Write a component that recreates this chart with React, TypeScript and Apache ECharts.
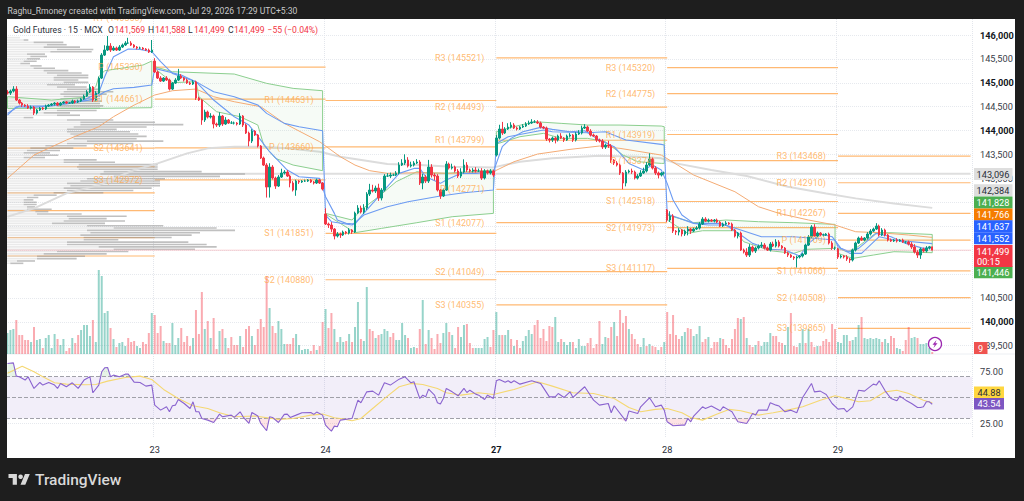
import React, { useEffect, useRef } from "react";
import * as echarts from "echarts";

const FONT = 'Roboto, sans-serif';
const BAR_SLOTS = 328;
const dayTicks: Record<number, string> = { 50: "23", 108: "24", 166: "27", 224: "28", 282: "29" };
const priceTicks = [139500, 140000, 140500, 141000, 141500, 142000, 142500, 143000, 143500, 144000, 144500, 145000, 145500, 146000];
const priceLabels = [139500, 140000, 140500, 143000, 143500, 144000, 144500, 145000, 145500, 146000];
const boldPrices = [140000, 144000, 145000, 146000];
const rsiTicks = [25, 75];

const closesDay22 = [144786,144828,144870,144640,144577,144535,144514,144473,144494,144368,144431,144473,144452,144514,144535,144556,144577,144535,144577,144598,144577,144577,144619,144598,144619,144661,144724,144807,144912,144640,144786,145100,145581,145686,145770,145686,145728,145686,145749,145791,145832,145832,145791,145749,145728,145728,145707,145686,145644,145686];
const closesDay23 = [145226,145100,145037,145100,145058,144870,144996,145058,145142,145100,145058,144996,144975,145017,144682,144640,144222,144389,144284,144305,144138,144117,144305,144138,144222,144159,144159,144159,144138,144305,144117,143950,143782,143991,143908,143678,143427,143280,142820,143238,143008,142841,143029,143113,143134,143050,142904,142757,142945,142925,142945,142945,142966,142925,142904,142966,142904,142778];
const closesDay24 = [142046,142025,141941,141795,141837,141816,141879,141858,141920,141879,142276,142381,142297,142381,142673,142757,142736,142799,142590,142757,143050,143050,143071,143071,143113,143280,143322,143385,143259,143280,143322,143343,142904,143029,142945,143238,143071,143050,142757,142632,142757,143301,143217,143238,143155,143050,143134,143280,143176,143155,143176,143155,143155,143008,143155,143113,143155,143071];
const closesDay27 = [143845,144033,143950,144033,144075,144117,144054,144033,144075,144096,144138,144159,144180,144180,144159,144075,144054,143824,143803,143845,143803,143887,143845,143803,143887,143908,143803,143929,143950,144054,144075,143991,143908,143887,143803,143782,143657,143698,143678,143385,143322,143280,143113,142904,143134,143155,143134,143008,143050,143113,143155,143280,143406,143217,143113,143071,143113,143113];
const closesDay28 = [142130,142213,141899,141879,141920,141837,141899,141941,141899,141941,141962,142046,142150,142109,142130,142109,142130,142088,142004,142046,142067,142046,141920,141795,141858,141502,141460,141397,141565,141481,141544,141586,141607,141544,141502,141628,141586,141669,141586,141544,141439,141397,141356,141335,141356,141376,141418,141607,141774,141983,141795,141858,141816,141816,141837,141648,141544,141544];
const closesDay29 = [141356,141376,141356,141314,141293,141502,141648,141753,141711,141753,141837,141899,141941,142004,141816,141920,141816,141711,141690,141711,141690,141711,141669,141669,141628,141565,141460,141397,141523,141481,141544,141569,141499];
const sessionOpens: Record<number, number> = { 0: 144807, 50: 145456, 108: 142255, 166: 143489, 224: 142339, 282: 141523 };

const wickUp = [40,30,60,60,20,20,20,40,30,20,20,20,20,30,20,20,20,20,20,20,20,20,30,20,30,20,30,40,60,20,40,30,40,100,210,60,40,30,40,30,40,110,40,20,20,30,20,20,30,210,
60,30,40,20,40,30,20,40,150,40,20,30,30,40,30,30,20,50,30,60,30,30,80,20,60,20,40,30,20,60,20,30,30,40,20,20,20,30,40,80,40,30,40,90,40,40,30,40,30,20,20,30,20,20,20,30,20,20,
120,30,60,20,40,30,30,20,40,20,30,60,50,80,40,130,110,50,90,40,40,60,50,30,40,60,80,120,60,70,40,60,40,70,40,150,60,40,40,20,30,60,30,70,30,40,80,120,60,30,40,60,50,60,40,30,40,30,
60,90,150,40,80,60,40,30,20,40,40,50,60,40,40,30,20,30,20,30,30,30,60,20,30,40,20,40,60,50,60,30,40,30,20,30,40,30,90,40,20,40,30,20,40,30,50,30,40,60,70,60,120,30,40,30,20,30,
20,100,40,20,40,20,30,60,20,30,40,40,40,40,30,20,20,30,20,30,40,20,30,20,20,30,30,80,60,30,30,30,60,40,30,40,50,60,40,20,20,30,20,20,30,20,20,30,40,40,60,30,20,30,20,30,40,30,
30,30,20,40,20,30,30,30,40,20,40,40,30,60,30,40,30,20,30,20,40,20,30,20,30,40,60,40,30,30,40,19,0];
const wickDown = [30,40,30,20,30,40,20,20,30,40,30,20,20,20,20,20,30,20,20,20,20,20,20,30,20,20,20,20,20,40,30,20,20,20,20,40,20,20,20,20,20,20,20,20,30,20,20,20,20,20,
20,20,20,20,20,30,20,20,20,20,30,20,20,20,40,20,100,40,30,30,90,40,40,40,20,20,20,30,30,20,40,20,110,40,20,30,20,20,220,220,30,60,20,20,30,20,90,30,120,40,20,20,20,20,30,20,20,30,
20,60,60,70,30,60,20,30,30,40,20,20,30,40,40,40,30,40,60,50,30,20,40,20,20,30,20,40,30,30,30,20,40,130,40,40,50,90,30,60,20,20,30,30,30,40,40,30,40,30,30,30,20,40,30,30,30,40,
30,30,40,20,20,30,20,30,20,20,20,20,20,20,20,30,20,40,50,40,70,30,20,40,20,30,40,30,20,30,20,20,30,20,40,30,40,40,40,60,40,30,40,130,70,30,40,30,30,20,20,30,20,30,40,70,30,30,
40,40,40,60,70,50,40,90,60,20,20,30,20,20,30,20,30,20,20,20,30,20,20,30,50,20,30,40,40,30,40,30,40,30,20,30,20,30,30,30,20,40,20,40,200,30,30,20,20,30,20,30,20,30,20,30,40,40,
40,30,30,40,60,30,30,20,20,20,30,30,20,20,30,20,30,30,20,20,30,20,20,30,30,40,30,60,80,30,30,30,0];

// signed: positive = rising bar colour, negative = falling bar colour
const volumes = [210,240,250,-340,-190,-190,-140,-140,120,-270,140,150,-60,160,190,60,200,-150,90,150,-30,-60,160,-110,-190,240,290,290,180,-340,120,840,780,410,430,-260,150,-70,110,120,80,-160,-120,-130,80,60,-120,-100,-210,410,
-390,-210,-280,130,-110,-110,310,90,160,-260,-120,-180,-80,160,-440,-200,-620,250,-330,160,-360,-50,230,-250,160,-60,-170,-90,-90,180,-70,-250,-280,180,-90,-250,-350,-270,-780,460,-280,-210,330,250,100,-100,-100,-160,200,90,40,50,50,-30,-90,40,-80,-320,
450,-260,-410,250,-120,170,120,-130,200,-120,270,520,-150,130,670,-250,-230,160,-190,200,250,230,-170,-210,140,140,310,190,-160,60,70,-60,-250,540,-100,240,-160,-50,-200,-110,210,310,-220,190,-60,-270,170,290,-300,-110,-60,60,60,60,150,170,-70,-240,
420,190,-190,190,240,-150,80,-140,-60,130,180,240,200,-290,-340,-160,-250,-130,-280,-270,370,120,-150,120,90,120,-120,60,150,80,80,-110,-160,-60,-100,-330,100,170,-160,-270,320,-180,-440,-310,-380,250,-200,-150,-100,70,160,-80,100,-80,-70,40,-70,120,
-420,-200,-390,-190,-150,180,220,-260,-250,180,200,280,-120,-150,170,-60,-120,-120,160,-150,-90,-60,-150,-250,-360,350,-370,160,-90,-70,90,-130,80,120,120,210,-180,-180,-120,-110,90,270,-410,-80,-70,110,250,-110,250,-120,-70,80,-80,-130,-150,-120,
-300,-250,120,110,190,190,-130,140,170,290,-370,160,150,160,150,160,150,-120,150,110,-180,-160,60,50,-30,-140,-270,160,170,-160,100,100,110,60,-20];

const rsiPoints = [[0,82.7],[2,83.3],[3,70.5],[4,69.9],[6,66.7],[7,69.9],[9,58.7],[11,64.4],[12,61.9],[14,64.4],[16,61.9],[17,58.7],[18,63.5],[20,60.3],[22,64.1],[24,58.7],[26,66.7],[28,69.9],[29,54.5],[31,61.9],[32,74.7],[33,78.5],[34,78.8],[35,69.9],[36,71.5],[38,69.9],[40,72.4],[41,72.4],[43,64.7],[45,64.4],[47,60.9],[49,61.9],[50,42.6],[52,37.8],[54,41],[55,36.2],[56,42],[57,42.6],[58,48],[60,44.2],[62,39.4],[63,45.8],[64,36.2],[65,36.2],[66,29.8],[68,28.2],[70,25.9],[72,34],[73,31.4],[76,33],[77,30.8],[79,36.2],[80,31.4],[82,25],[83,35.6],[85,32.1],[86,25],[88,18],[89,31.4],[90,30.8],[92,25.9],[94,33.7],[95,34],[96,30.8],[98,33],[100,35.3],[103,35.6],[104,33.7],[105,35.9],[107,33],[108,23.4],[109,20.2],[110,17.6],[111,22.4],[112,21.8],[113,28.2],[117,29.8],[119,47.4],[120,44.9],[122,55.4],[124,56.1],[126,52.2],[128,64.1],[130,61.9],[133,67.6],[135,69.9],[137,64.1],[138,65.1],[140,49],[141,52.2],[142,50.6],[143,58],[145,52.2],[146,44.9],[147,43.6],[148,49],[149,58.7],[151,55.4],[153,51.6],[155,58.7],[156,54.8],[157,57],[159,53.2],[160,52.2],[162,48],[163,52.2],[165,49],[166,66],[167,67.3],[169,64.7],[170,66],[171,64.1],[172,66],[174,62.8],[178,66],[181,63.5],[184,50.6],[186,50.6],[187,53.8],[189,50],[191,55.4],[192,50],[196,60.3],[199,47.4],[201,42.6],[204,44.2],[205,35.3],[206,42],[210,27.2],[211,36.9],[214,34.6],[215,41],[218,49.7],[220,41],[222,42.6],[223,37.8],[224,26.6],[226,22.8],[229,23.4],[230,23.4],[231,29.8],[232,26.6],[233,32.1],[236,41],[237,39.4],[239,41.7],[242,37.2],[243,41],[245,37.8],[246,36.2],[248,26.6],[251,25],[253,34.6],[254,33],[255,37.8],[258,37.8],[259,44.9],[261,42.6],[262,41.7],[264,36.2],[266,37.8],[268,35.3],[270,50],[273,63.5],[274,55.4],[276,56.1],[278,52.9],[280,44.2],[282,38.8],[284,39.4],[285,36.2],[287,41],[289,57],[291,56.1],[294,62.8],[295,61.9],[296,66],[298,56.4],[300,49],[302,46.8],[303,51.3],[305,47.4],[307,44.2],[309,40.4],[310,40.4],[311,41],[312,45.8],[313,45.8],[314,43.5]];
const rsiMaPoints = [[0,73.4],[5,79.9],[9,74.7],[12,69.9],[16,64.1],[20,62.8],[26,62.2],[30,62.5],[34,65.7],[40,69.2],[45,70.5],[49,67.3],[53,57.7],[58,49],[63,42],[68,39.4],[72,35.3],[77,31.4],[84,32.1],[92,28.9],[97,29.8],[103,33],[107,34],[111,30.5],[113,29.8],[117,27.6],[120,29.8],[124,39.4],[129,51.3],[133,60.3],[137,63.5],[141,62.5],[146,58.7],[149,54.5],[154,52.2],[160,54.5],[165,52.9],[172,57.7],[180,65.1],[185,60.9],[192,54.5],[199,53.8],[206,49],[211,40.4],[215,36.2],[220,38.5],[224,39.4],[229,35.3],[232,30.8],[236,28.2],[241,34],[245,38.5],[249,37.2],[255,33],[260,35.3],[266,38.5],[270,41],[276,47.4],[281,51.6],[287,47.4],[289,45.8],[293,46.8],[298,55.4],[302,57],[306,53.8],[311,47.4],[314,44.9]];

const fastLine = [[0,144361],[4,144515],[15,144515],[26,144640],[31,144794],[33,145128],[36,145547],[41,145707],[45,145700],[49,145651],[52,145442],[56,145198],[64,145024],[70,144640],[77,144291],[82,144117],[86,143803],[89,143559],[95,143176],[99,143036],[106,143001],[108,142618],[111,142269],[112,142130],[115,142060],[118,142046],[120,142200],[124,142479],[129,142827],[133,143106],[138,143210],[140,143210],[142,143036],[147,142897],[149,142966],[154,143106],[159,143106],[165,143141],[166,143315],[168,143664],[171,143838],[175,143977],[181,144068],[185,144026],[191,143977],[196,143998],[200,143838],[206,143664],[209,143455],[211,143315],[216,143176],[219,143280],[222,143176],[224,142897],[226,142548],[229,142234],[233,142060],[238,142025],[244,142025],[249,141816],[253,141641],[259,141516],[264,141502],[269,141377],[272,141641],[276,141837],[280,141781],[283,141537],[286,141467],[289,141537],[295,141851],[300,141781],[305,141641],[311,141537],[314,141552]];
const vwapLine = [[0,144326],[3,144501],[9,144487],[20,144557],[29,144654],[33,144814],[36,144877],[43,144905],[49,144954],[50,145302],[59,145163],[65,144989],[70,144814],[77,144710],[85,144536],[88,144361],[94,144152],[99,144082],[107,143999],[108,142234],[110,142095],[117,142025],[121,142234],[129,142409],[136,142513],[147,142632],[155,142701],[165,142757],[166,143733],[170,143873],[182,144012],[185,143977],[197,143956],[203,143977],[210,143803],[222,143712],[223,143698],[224,142269],[225,142234],[233,142060],[242,142060],[249,141920],[256,141781],[267,141781],[281,141711],[282,141572],[286,141432],[290,141432],[296,141781],[301,141711],[314,141637]];
const emaOrange = [[0,143001],[9,143490],[20,143803],[31,144082],[36,144291],[43,144535],[50,144745],[56,144835],[64,144870],[70,144710],[77,144605],[86,144501],[94,144152],[106,143768],[113,143455],[118,143280],[123,143162],[129,143106],[140,143120],[151,143106],[165,143141],[172,143350],[180,143510],[191,143608],[201,143678],[208,143629],[222,143489],[227,143301],[233,143071],[247,142722],[255,142408],[262,142269],[272,142130],[281,142025],[288,141885],[296,141865],[306,141816],[314,141766]];
const emaGray = [[0,142199],[9,142374],[20,142688],[31,142862],[43,143176],[51,143315],[61,143524],[68,143629],[77,143664],[86,143664],[95,143629],[106,143559],[113,143455],[129,143301],[140,143280],[151,143245],[165,143231],[174,143350],[185,143420],[201,143475],[214,143455],[222,143420],[227,143315],[239,143176],[251,143050],[265,142827],[278,142687],[288,142583],[301,142478],[314,142384]];

const bandUppers = [
  [[0,144710],[15,144640],[26,144696],[30,144919],[31,145128],[33,145254],[46,145372],[49,145456]],
  [[50,145337],[56,145233],[77,145184],[88,144989],[97,144884],[107,144835]],
  [[108,142269],[117,142130],[120,142339],[126,142618],[132,142932],[139,143141],[142,143120],[149,143106],[165,143176]],
  [[166,143977],[171,144068],[179,144187],[188,144152],[197,144117],[208,144117],[222,144096],[223,144082]],
  [[224,142234],[228,142165],[233,142074],[244,142130],[255,142095],[267,142074],[281,142039]],
  [[282,141537],[285,141467],[288,141537],[295,141865],[300,141865],[314,141828]],
];
const bandLowers = [
  [[0,144466],[31,144466],[49,144480]],
  [[50,145302],[56,145003],[64,145024],[65,144710],[71,144396],[79,144291],[85,144117],[87,143699],[91,143420],[97,143280],[107,143162]],
  [[108,142255],[118,141865],[127,141955],[139,142074],[151,142199],[165,142269]],
  [[166,143719],[174,143873],[182,143943],[188,143838],[197,143838],[203,143768],[209,143489],[214,143350],[222,143315],[223,143315]],
  [[224,142130],[231,141851],[236,141906],[247,141906],[250,141676],[259,141488],[267,141432],[271,141516],[281,141537]],
  [[282,141432],[287,141327],[294,141397],[301,141467],[314,141446]],
];

const unlabelledPivots = [143636, 143245, 142700, 142325, 141760, 141377];
const pivotsDay23 = [["R1",146350],["P",145330],["S1",144661],["S2",143641],["S3",142972]];
const pivotsDay24 = [["R1",144631],["P",143660],["S1",141851],["S2",140880]];
const pivotsDay27 = [["R3",145521],["R2",144493],["R1",143799],["P",142771],["S1",142077],["S2",141049],["S3",140355]];
const pivotsDay28 = [["R3",145320],["R2",144775],["R1",143919],["P",143374],["S1",142518],["S2",141973],["S3",141117]];
const pivotsDay29 = [["R3",143468],["R2",142910],["R1",142267],["P",141709],["S1",141066],["S2",140508],["S3",139865]];
const pivotSessions: [number, number, (string | number)[][]][] = [[50,108,pivotsDay23],[108,166,pivotsDay24],[166,224,pivotsDay27],[224,282,pivotsDay28],[282,327,pivotsDay29]];

// volume-profile rows, top to bottom: total size and its light share
const profileTotal = [39,64,169,179,219,259,254,114,120,99,89,69,104,144,184,224,244,244,214,244,204,239,279,319,299,279,279,284,279,289,279,269,189,219,79,319,444,529,419,329,369,394,419,389,469,379,
239,199,159,129,154,114,269,324,452,452,452,584,714,639,474,459,459,459,434,379,289,149,94,79,89,89,84,134,124,224,359,299,354,294,469,629,684,579,554,494,334,544,599,629,564,364,299,234,209,84,49];
const profileLight = [39,50,80,120,110,150,130,60,70,60,50,40,70,80,110,120,150,140,140,170,120,150,180,170,160,170,160,170,170,150,160,150,110,150,50,180,220,220,200,180,180,190,200,200,240,180,
115,70,60,50,80,50,170,170,215,210,215,290,280,320,240,220,180,190,170,180,140,80,60,50,50,50,60,60,85,90,180,185,170,135,240,320,240,250,220,230,230,180,180,275,320,150,110,90,90,30,10];

const tags = [
  ["143,096", 174, "#dedede", "#2a2e39"],
  ["142,384", 190.3, "#dedede", "#2a2e39"],
  ["141,828", 202.5, "#4caf50", "#fff"],
  ["141,766", 214.5, "#f57c00", "#fff"],
  ["141,637", 226.2, "#2962ff", "#fff"],
  ["141,552", 238.2, "#2962ff", "#fff"],
  ["141,446", 272.3, "#4caf50", "#fff"],
];

registerShapes();
function registerShapes() {
  echarts.graphic.registerShape("tvLogo", echarts.graphic.extendPath("M14 22H7V11H0V4h14v18ZM28 22h-8l7.5-18h8L28 22Z", {}));
}

const fmt = (n: number) => n.toLocaleString("en-US");
const categories = Array.from({ length: BAR_SLOTS }, (_, i) => dayTicks[i] || "");
const closes = [...closesDay22, ...closesDay23, ...closesDay24, ...closesDay27, ...closesDay28, ...closesDay29];
const candles = closes.map((c, i) => {
  const o = sessionOpens[i] ?? closes[i - 1];
  return [o, c, Math.min(o, c) - (wickDown[i] || 0), Math.max(o, c) + (wickUp[i] || 0)];
});

const UP = "#089981", DOWN = "#f23645";
const AXIS_SIZE = 9.2;
const HEAD_SIZE = 8.6;
const isDay = (i: number) => dayTicks[i] !== undefined;
const text = (t: string, x: number, y: number, size: number, fill: string, extra: any = {}) => ({
  type: "text", z: 95, x, y, silent: true,
  style: { text: t, fill, font: `${extra.weight || "normal"} ${size}px ${FONT}`, textAlign: extra.align || "left", textVerticalAlign: "middle" },
});
const rect = (x: number, y: number, w: number, h: number, fill: string, z = 90) => ({
  type: "rect", z, silent: true, shape: { x, y, width: w, height: h }, style: { fill },
});
const xAxisBase = (gridIndex: number, labels: boolean) => ({
  type: "category", gridIndex, data: categories, boundaryGap: true,
  axisLine: { show: false }, axisTick: { show: false },
  axisLabel: labels ? {
    show: true, interval: (i: number) => isDay(i), margin: 7, color: "#2a2e39", fontSize: AXIS_SIZE, fontFamily: FONT,
    formatter: (v: string) => (v === "27" ? `{b|${v}}` : v),
    rich: { b: { fontWeight: "bold", color: "#131722", fontSize: AXIS_SIZE, fontFamily: FONT } },
  } : { show: false },
  splitLine: { show: true, interval: (i: number) => isDay(i), lineStyle: { color: "#e3e6ec", type: "dotted", width: 1 } },
});
const lineSeries = (data: number[][], color: string, width: number, z = 6) => ({
  type: "line", data, symbol: "none", showSymbol: false, silent: true, z,
  lineStyle: { color, width },
});

function buildOption(): any {
  const pivotSegments: number[][] = [];
  const pivotLabels: any[] = [];
  unlabelledPivots.forEach((p) => pivotSegments.push([0, 50, p]));
  pivotSessions.forEach(([a, b, items]) => items.forEach(([name, p]) => {
    pivotSegments.push([a, b, p as number]);
    pivotLabels.push({ value: [a, p], name: `${name} (${p})` });
  }));

  return {
    animation: false,
    backgroundColor: "#ffffff",
    grid: [
      { left: 6, right: 52, top: 11, height: 343 },
      { left: 6, right: 52, top: 260, height: 94 },
      { left: 6, right: 52, top: 354, height: 84 },
      { left: 7, right: 52, top: 36.5, height: 228 },
    ],
    xAxis: [
      xAxisBase(0, false),
      { ...xAxisBase(1, false), splitLine: { show: false } },
      xAxisBase(2, true),
      { type: "value", gridIndex: 3, min: 0, max: 2895, show: false },
    ],
    yAxis: [
      {
        type: "value", gridIndex: 0, position: "right", min: 139327, max: 146503, scale: true,
        axisLine: { show: false }, axisTick: { show: false, customValues: priceTicks },
        axisLabel: {
          show: true, customValues: priceLabels, margin: 8, color: "#3a3e49", fontSize: AXIS_SIZE, fontFamily: FONT,
          formatter: (v: number) => (boldPrices.includes(v) ? `{b|${fmt(v)}}` : fmt(v)),
          rich: { b: { fontWeight: "bold", color: "#131722", fontSize: AXIS_SIZE, fontFamily: FONT } },
        },
        splitLine: { show: true, lineStyle: { color: "#e6e9ee", type: "dotted", width: 1 } },
      },
      { type: "value", gridIndex: 1, min: 0, max: 940, show: false },
      {
        type: "value", gridIndex: 2, position: "right", min: 11, max: 91.8,
        axisLine: { show: false }, axisTick: { show: false, customValues: rsiTicks },
        axisLabel: {
          show: true, customValues: rsiTicks, margin: 8, color: "#3a3e49", fontSize: AXIS_SIZE, fontFamily: FONT,
          formatter: (v: number) => v.toFixed(2),
        },
        splitLine: { show: true, lineStyle: { color: "#e6e9ee", type: "dotted", width: 1 } },
      },
      { type: "category", gridIndex: 3, inverse: true, data: profileTotal.map((_, i) => i), show: false },
    ],
    series: [
      {
        type: "custom", xAxisIndex: 0, yAxisIndex: 0, z: 2, silent: true,
        data: pivotSegments,
        renderItem: (_: any, api: any) => {
          const a = api.coord([api.value(0), api.value(2)]);
          const b = api.coord([api.value(1), api.value(2)]);
          return { type: "line", shape: { x1: a[0], y1: a[1], x2: b[0], y2: b[1] }, style: { stroke: "#ffb973", lineWidth: 1.2 } };
        },
        encode: { x: 0, y: 2 },
      },
      { ...lineSeries([[0, 143096], [BAR_SLOTS - 1, 143096]], "#dedede", 2, 2) },
      { ...lineSeries(emaGray, "#dcdcdc", 2, 3) },
      {
        type: "bar", xAxisIndex: 3, yAxisIndex: 3, stack: "profile", barWidth: 1.6, silent: true, z: 3,
        data: profileLight, itemStyle: { color: "rgba(205,205,205,0.42)" },
      },
      {
        type: "bar", xAxisIndex: 3, yAxisIndex: 3, stack: "profile", barWidth: 1.6, silent: true, z: 3,
        data: profileTotal.map((t, i) => t - profileLight[i]), itemStyle: { color: "rgba(150,150,150,0.6)" },
      },
      {
        type: "custom", xAxisIndex: 0, yAxisIndex: 0, z: 4, silent: true,
        data: bandUppers.map((_, i) => [i, 0, 141000]),
        encode: { x: 1, y: 2 },
        renderItem: (_: any, api: any) => {
          const d = api.value(0);
          const pts = [...bandUppers[d], ...[...bandLowers[d]].reverse()].map((p) => api.coord(p));
          return { type: "polygon", shape: { points: pts }, style: { fill: "rgba(76,175,80,0.05)", stroke: "#8ccf8f", lineWidth: 1 } };
        },
      },
      lineSeries(emaOrange, "#f4ab74", 1, 5),
      lineSeries(fastLine, "#6c9bf2", 1.1, 5),
      lineSeries(vwapLine, "#6c9bf2", 1.1, 5),
      {
        type: "candlestick", xAxisIndex: 0, yAxisIndex: 0, barWidth: 2, z: 6, silent: true, data: candles,
        itemStyle: { color: UP, color0: DOWN, borderColor: UP, borderColor0: DOWN, borderWidth: 1 },
      },
      { ...lineSeries([[0, 141499], [BAR_SLOTS - 1, 141499]], "#f7a3aa", 1, 5), lineStyle: { color: "#f7a3aa", width: 1, type: "dotted" } },
      {
        type: "scatter", xAxisIndex: 0, yAxisIndex: 0, symbolSize: 0, z: 7, silent: true,
        data: pivotLabels,
        label: {
          show: true, position: "left", distance: 12, color: "#ffa94d", fontSize: 9, fontFamily: FONT,
          formatter: (p: any) => p.name,
        },
      },
      {
        type: "bar", xAxisIndex: 1, yAxisIndex: 1, barWidth: 2, z: 3, silent: true,
        data: volumes.map((v) => ({
          value: Math.abs(v),
          itemStyle: { color: v >= 0 ? "rgba(8,153,129,0.42)" : "rgba(242,54,69,0.42)" },
        })),
      },
      {
        ...lineSeries(rsiPoints, "#8a63cf", 1.1, 6), xAxisIndex: 2, yAxisIndex: 2,
        markArea: { silent: true, itemStyle: { color: "rgba(126,87,194,0.1)" }, data: [[{ yAxis: 70 }, { yAxis: 30 }]] },
        markLine: {
          silent: true, symbol: "none", label: { show: false },
          lineStyle: { color: "#a0a0a8", type: "dashed", width: 1 },
          data: [{ yAxis: 70 }, { yAxis: 50 }, { yAxis: 30 }],
        },
      },
      {
        ...lineSeries(rsiPoints.map(([i, v]) => [i, Math.max(v, 70)]), "transparent", 0, 4), xAxisIndex: 2, yAxisIndex: 2,
        areaStyle: { color: "rgba(76,175,80,0.2)", origin: 70 },
      },
      {
        ...lineSeries(rsiPoints.map(([i, v]) => [i, Math.min(v, 30)]), "transparent", 0, 4), xAxisIndex: 2, yAxisIndex: 2,
        areaStyle: { color: "rgba(242,54,69,0.2)", origin: 30 },
      },
      { ...lineSeries(rsiMaPoints, "#f5d872", 1.1, 5), xAxisIndex: 2, yAxisIndex: 2 },
    ],
    graphic: { elements: [
      rect(0, 0, 1024, 19, "#1e1e1e"),
      rect(0, 458, 1024, 43, "#1e1e1e"),
      rect(0, 0, 7, 501, "#1e1e1e"),
      rect(1015, 0, 9, 501, "#1e1e1e"),
      { type: "line", z: 1, silent: true, shape: { x1: 7, y1: 354, x2: 1015, y2: 354 }, style: { stroke: "#eceff3", lineWidth: 1 } },
      text("Raghu_Rmoney created with TradingView.com, Jul 29, 2026 17:29 UTC+5:30", 7.5, 11, HEAD_SIZE, "#c8c8c8"),
      text("Gold Futures · 15 · MCX", 13, 30, HEAD_SIZE, "#2a2e39"),
      text("O", 108, 30, HEAD_SIZE, "#2a2e39"), text("141,569", 114.5, 30, HEAD_SIZE, DOWN),
      text("H", 148, 30, HEAD_SIZE, "#2a2e39"), text("141,588", 155, 30, HEAD_SIZE, DOWN),
      text("L", 188, 30, HEAD_SIZE, "#2a2e39"), text("141,499", 194, 30, HEAD_SIZE, DOWN),
      text("C", 228, 30, HEAD_SIZE, "#2a2e39"), text("141,499", 234, 30, HEAD_SIZE, DOWN),
      text("−55 (−0.04%)", 267.5, 30, HEAD_SIZE, DOWN),
      ...tags.flatMap(([t, y, bg, fg]) => [
        rect(974, (y as number) - 6, 38.5, 12, bg as string, 91),
        text(t as string, 993, y as number, AXIS_SIZE, fg as string, { align: "center" }),
      ]),
      rect(974, 245, 38.5, 22, DOWN, 91),
      text("141,499", 993, 251, AXIS_SIZE, "#fff", { align: "center" }),
      text("00:15", 977, 261, AXIS_SIZE, "#fff"),
      rect(974, 342, 13.5, 12, "#ef5350", 91),
      text("9", 980.5, 348, AXIS_SIZE, "#fff", { align: "center" }),
      rect(974, 386.5, 30, 11.5, "#ffd740", 91),
      text("44.88", 989, 392.3, AXIS_SIZE, "#2a2e39", { align: "center" }),
      rect(974, 398, 30, 11.5, "#7e57c2", 91),
      text("43.54", 989, 403.8, AXIS_SIZE, "#fff", { align: "center" }),
      { type: "circle", z: 92, silent: true, shape: { cx: 935, cy: 344, r: 6.5 }, style: { fill: "#fff", stroke: "#9c27b0", lineWidth: 1.3 } },
      { type: "polygon", z: 93, silent: true, shape: { points: [[936.5, 340], [932.5, 344.7], [934.7, 344.7], [933.5, 348], [937.5, 343.3], [935.3, 343.3]] }, style: { fill: "#9c27b0" } },
      { type: "tvLogo", z: 95, silent: true, x: 8.5, y: 471.5, scaleX: 0.6, scaleY: 0.6, style: { fill: "#d9d9d9" } },
      { type: "circle", z: 95, silent: true, shape: { cx: 20.6, cy: 476.7, r: 2.3 }, style: { fill: "#d9d9d9" } },
      text("TradingView", 35, 480, 15.5, "#d9d9d9", { weight: "500" }),
    ] },
  };
}

export default function App() {
  const ref = useRef<HTMLDivElement | null>(null);
  useEffect(() => {
    document.body.style.margin = "0";
    const chart = echarts.init(ref.current!, null, { renderer: "svg" });
    chart.setOption(buildOption());
    return () => chart.dispose();
  }, []);
  return <div ref={ref} style={{ width: 1024, height: 501 }} />;
}
